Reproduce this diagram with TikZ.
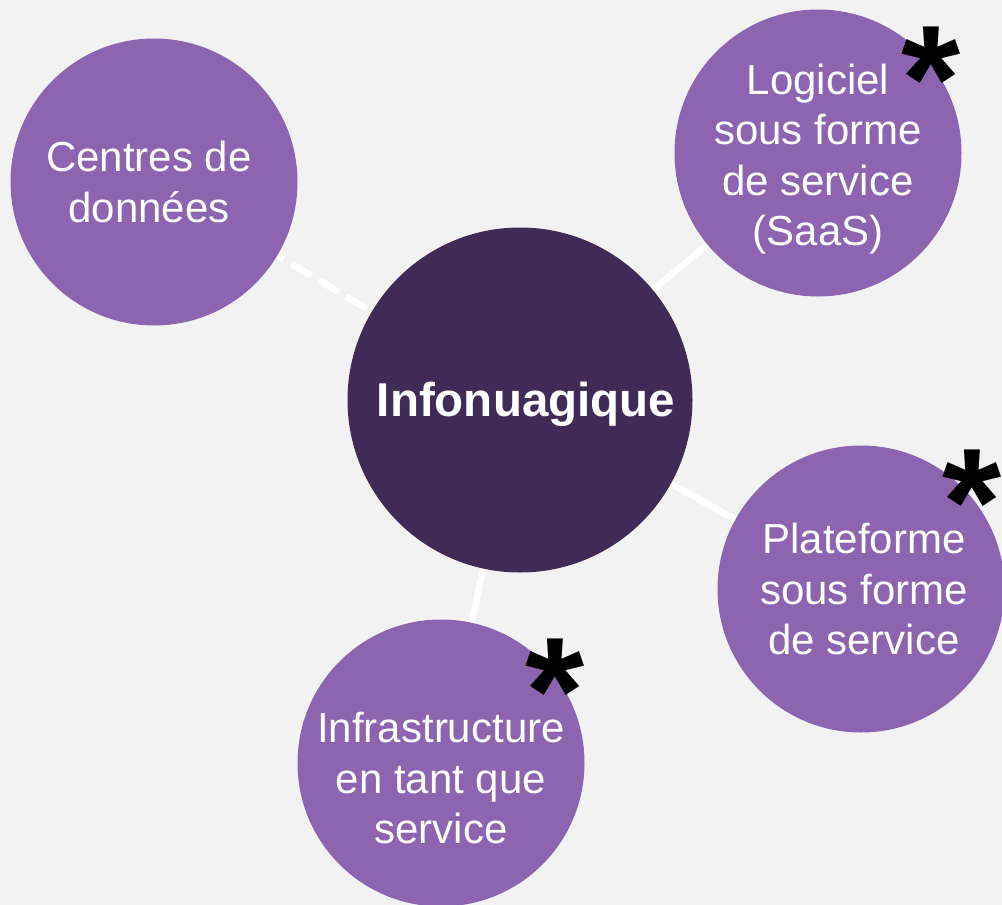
\documentclass[tikz,border=0pt]{standalone}
\usepackage{fontspec}
\setmainfont{Liberation Sans}
\usetikzlibrary{backgrounds}
\definecolor{bg}{HTML}{F2F2F2}
\definecolor{lav}{HTML}{8C64B0}
\definecolor{plum}{HTML}{3F2B56}
\begin{document}
\begin{tikzpicture}[x=1pt,y=-1pt,
  sat/.style={circle, fill=lav, minimum size=287pt, inner sep=0pt},
  lbl/.style={text=white, align=center, font=\fontsize{42}{50.5}\selectfont},
  hub/.style={circle, fill=plum, minimum size=345pt, inner sep=0pt},
  hublbl/.style={text=white, font=\fontsize{47.5}{56}\selectfont\bfseries},
  link/.style={draw=white, line width=6.5pt},
  dlink/.style={link, dash pattern=on 23pt off 9pt},
  starmark/.style={font=\fontsize{152}{152}\selectfont\bfseries, inner sep=0pt, anchor=base, text=black}]
\useasboundingbox (0,0) rectangle (1002,905);
\node[hub, label={[hublbl, xshift=6pt, yshift=-4pt]center:Infonuagique}] (hub) at (520,400) {};
\node[sat, label={[lbl, xshift=-5pt]center:Centres de\\données}] (dc) at (154,182) {};
\node[sat, label={[lbl, yshift=-6pt]center:Logiciel\\sous forme\\de service\\(SaaS)}] (saas) at (818,153) {};
\node[sat, label={[lbl, xshift=3pt]center:Plateforme\\sous forme\\de service}] (paas) at (861,589) {};
\node[sat, label={[lbl, yshift=-15pt]center:Infrastructure\\en tant que\\service}] (iaas) at (441,763) {};
\node[starmark] (s1) at (931,131.5) {*};
\node[starmark] (s2) at (972,554.5) {*};
\node[starmark] (s3) at (555,743.5) {*};
\begin{pgfonlayer}{background}
\fill[bg] (0,0) rectangle (1002,905);
\draw[dlink] (dc.center) -- (hub.center);
\draw[link] (hub.center) -- (saas.center);
\draw[link] (hub.center) -- (paas.center);
\draw[link] (hub.center) -- (iaas.center);
\end{pgfonlayer}
\end{tikzpicture}
\end{document}
